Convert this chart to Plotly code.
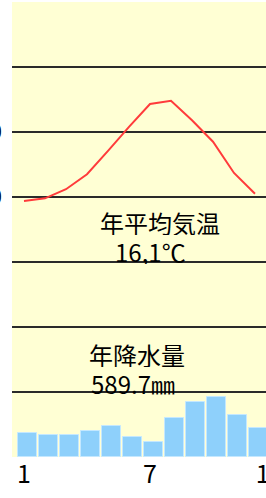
import plotly.graph_objects as go

months = list(range(1, 13))
temperature = [9.4, 9.8, 11.2, 13.5, 17.1, 20.8, 24.3, 24.8, 21.8, 18.5, 13.7, 10.5]
precipitation = [36.6, 33.6, 33.6, 39.5, 47.4, 30.6, 22.7, 59.3, 85.0, 92.9, 64.2, 44.5]
x_tick_vals = [1, 7, 12.7]
x_tick_text = ["1", "7", "12"]
temp_tick_vals = [-20, -10, 0, 10, 20, 30]
temp_tick_text = ["", "", "", "10", "20", ""]
title_temp = "年平均気温"
mean_temp = "16,1℃"
title_prec = "年降水量"
total_prec = "589.7㎜"

W, H = 300, 498
L, T, B = 12, 2, 41
pw, ph = W - L, H - T - B
STEP = 21.0

def px(x):
    return (x - L) / pw

def py(y):
    return (H - B - y) / ph

fig = go.Figure()
fig.add_trace(go.Bar(
    x=months, y=precipitation, yaxis="y2",
    width=0.9, offset=-0.3,
    marker=dict(color="#8ED0FB", line=dict(color="#C4E8FF", width=1)),
    showlegend=False,
))
fig.add_trace(go.Scatter(
    x=months, y=temperature, mode="lines",
    line=dict(color="#FF3B3B", width=2),
    showlegend=False,
))

font = "Noto Sans CJK JP, sans-serif"
ann = []
for text, x, y in [(title_temp, 160, 222), (mean_temp, 150, 251),
                   (title_prec, 137, 354), (total_prec, 133, 383)]:
    ann.append(dict(text=text, x=px(x), y=py(y), xref="paper", yref="paper",
                    showarrow=False, xanchor="center", yanchor="middle",
                    height=26, borderpad=0,
                    font=dict(family=font, size=24, color="black")))

x_lo = 1 - (24 - L) / STEP
x_hi = 1 + (W - 24) / STEP

fig.update_layout(
    width=W, height=H,
    margin=dict(l=L, r=0, t=T, b=B, pad=0),
    paper_bgcolor="white",
    plot_bgcolor="#FFFFD4",
    annotations=ann,
    bargap=0,
    xaxis=dict(range=[x_lo, x_hi], tickvals=x_tick_vals, ticktext=x_tick_text,
               showgrid=False, zeroline=False, showline=False, ticks="",
               automargin=False,
               tickfont=dict(family=font, size=25, color="black")),
    yaxis=dict(range=[-30, 40], tickvals=temp_tick_vals, ticktext=temp_tick_text,
               showgrid=True, gridcolor="#2A2A2A", gridwidth=2,
               zeroline=False, showline=False, ticks="",
               ticklabelstandoff=9, automargin=False,
               tickfont=dict(family=font, size=24, color="black")),
    yaxis2=dict(range=[0, 700], overlaying="y", side="right",
                showgrid=False, zeroline=False, showticklabels=False, ticks="",
                automargin=False),
)

fig.write_html(
    "out.html",
    config={"displayModeBar": False},
    post_script="document.body.style.margin='0';document.body.style.overflow='hidden';",
)
